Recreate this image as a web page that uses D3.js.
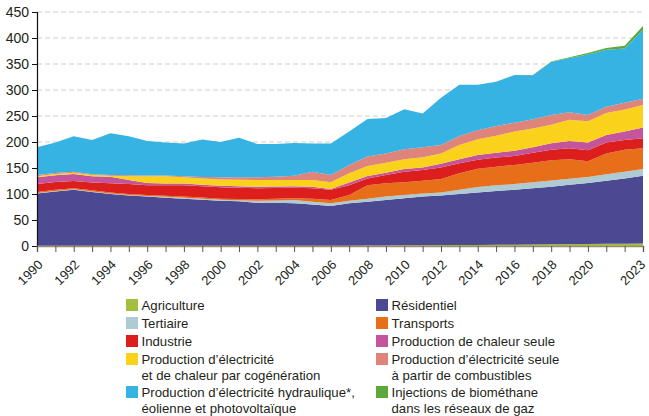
<!DOCTYPE html>
<html><head><meta charset="utf-8">
<script src="https://cdn.jsdelivr.net/npm/d3@7"></script>
<style>
body{margin:0;background:#fff;}
text{font-family:"Liberation Sans",Arial,Helvetica,sans-serif;fill:#231f20;}
</style></head>
<body><svg id="c" width="649" height="416"></svg>
<script>
const years = [1990,1991,1992,1993,1994,1995,1996,1997,1998,1999,2000,2001,2002,2003,2004,2005,2006,2007,2008,2009,2010,2011,2012,2013,2014,2015,2016,2017,2018,2019,2020,2021,2022,2023];
const xTickLabels = ["1990","1992","1994","1996","1998","2000","2002","2004","2006","2008","2010","2012","2014","2016","2018","2020","2023"];
const yTicks = [0,50,100,150,200,250,300,350,400,450];

const agriculture = [0.5,0.5,0.5,0.5,0.5,0.5,0.5,0.5,0.5,0.5,0.5,0.5,0.5,0.5,0.5,0.5,0.5,0.7,1,1.2,1.5,1.6,1.8,2,2.1,2.3,2.6,3,3.3,3.5,3.8,4.2,4.5,4.8];
const residentiel = [100.5,104.5,107.5,103.5,99.5,96.5,94.5,92.5,90.5,88.5,86.5,85.5,82.5,82.5,81.5,79.5,76.5,81.3,84,87.3,90.5,93.4,95.2,98,100.9,103.5,105.4,108,110.7,114.5,117.2,121.4,125.5,130.2];
const tertiaire = [1,1,1,1,1,1,1,1.5,2,2,2,2,4,4.5,6.5,5,5,5,6,6.5,6,6,6,8,10.5,10.9,11,11.5,12,11.5,11.5,12.4,13,13];
const transports = [2,2,2,2,2,2,2,2,2,2.5,2,2.5,3,3.5,3.5,6,6.5,11,26,25.5,24.5,24.6,26,32,35,35.9,37,37.5,39,37.5,30.5,40,42,40];
const industrie = [15,15,14,15,17.5,19,19,20.5,22,21.5,22,21.5,21,20.5,20,20,19.5,19,13,16,20.5,20.4,22,19,17.5,17.4,17,19.5,20,21,21,21,19,19];
const chaleurSeule = [13,13,13.5,12,12.5,8,4,3,3,3,3,3,3,3,3,3,1.5,5,4.6,4.5,5,5,7,8,9,9.5,10,10.5,12.5,14,15,14.5,16,21];
const cogeneration = [2,2.5,2.5,2.5,2,7,13,14,12,12,12,12.5,13,12.5,12,13,13,18,19.4,19,19,19.5,20,27,30.5,32.5,37,36,35.5,41,41,42.5,42.5,43];
const elecCombustibles = [2.5,2,2,1.5,1.5,2,1.5,1.5,2,2.5,4,4.5,5,6,8,16,14,16,18,18,19,19.5,16,17.5,17,19,17,17.6,19,14,12,12,13.1,12];
const hydroEolienPV = [53.5,58.5,68,66,80.5,75,66.5,63.5,63,72.5,68,76,64,63,63,54,60.5,64,72,68,77,65,91,98.5,87.5,84.8,91.7,84.8,102,104.5,116.5,109.5,104.4,133.5];
const biomethane = [0,0,0,0,0,0,0,0,0,0,0,0,0,0,0,0,0,0,0,0,0,0,0,0,0,0.2,0.3,0.6,1,1.5,2.5,3.5,5,6.5];

const seriesKeys = ["agriculture","residentiel","tertiaire","transports","industrie","chaleurSeule","cogeneration","elecCombustibles","hydroEolienPV","biomethane"];
const seriesValues = {agriculture,residentiel,tertiaire,transports,industrie,chaleurSeule,cogeneration,elecCombustibles,hydroEolienPV,biomethane};
const seriesColors = {agriculture:"#a2c03b",residentiel:"#4b4992",tertiaire:"#aecad3",transports:"#e86f19",industrie:"#dc1f1c",chaleurSeule:"#c4549b",cogeneration:"#fad21c",elecCombustibles:"#de847b",hydroEolienPV:"#36b2e3",biomethane:"#5da83a"};

const legendLeft = [
  {key:"agriculture", lines:["Agriculture"]},
  {key:"tertiaire", lines:["Tertiaire"]},
  {key:"industrie", lines:["Industrie"]},
  {key:"cogeneration", lines:["Production d’électricité","et de chaleur par cogénération"]},
  {key:"hydroEolienPV", lines:["Production d’électricité hydraulique*,","éolienne et photovoltaïque"]}
];
const legendRight = [
  {key:"residentiel", lines:["Résidentiel"]},
  {key:"transports", lines:["Transports"]},
  {key:"chaleurSeule", lines:["Production de chaleur seule"]},
  {key:"elecCombustibles", lines:["Production d’électricité seule","à partir de combustibles"]},
  {key:"biomethane", lines:["Injections de biométhane","dans les réseaux de gaz"]}
];

const svg = d3.select("#c");
const L = 37, R = 643, T = 12, B = 246;
const x = d3.scaleLinear().domain([1990,2023]).range([L,R]);
const y = d3.scaleLinear().domain([0,450]).range([B,T]);

const table = years.map((yr,i)=>{ const o={year:yr}; seriesKeys.forEach(k=>o[k]=seriesValues[k][i]); return o; });
const stack = d3.stack().keys(seriesKeys)(table);

// gridlines
svg.append("g").selectAll("line").data(yTicks.filter(d=>d>0)).join("line")
  .attr("x1",L).attr("x2",R).attr("y1",d=>y(d)).attr("y2",d=>y(d))
  .attr("stroke","#d0d0d0").attr("stroke-width",1.2).attr("stroke-dasharray","5,3");

const area = d3.area().x(d=>x(d.data.year)).y0(d=>y(d[0])).y1(d=>y(d[1]));
svg.append("g").selectAll("path").data(stack).join("path")
  .attr("d",area).attr("fill",d=>seriesColors[d.key]);

// y axis
const yAxis = svg.append("g").attr("transform",`translate(${L},0)`)
  .call(d3.axisLeft(y).tickValues(yTicks).tickSize(5).tickPadding(3));
yAxis.select(".domain").attr("stroke","#111").attr("stroke-width",1.2);
yAxis.selectAll(".tick line").attr("stroke","#111");
yAxis.selectAll("text").attr("font-size",14).attr("fill","#231f20").style("font-family","'Liberation Sans',Arial,sans-serif");

// x axis
const xAxis = svg.append("g").attr("transform",`translate(0,${B})`)
  .call(d3.axisBottom(x).tickValues(years).tickSize(6).tickFormat(d=>xTickLabels.includes(String(d))?String(d):""));
xAxis.select(".domain").attr("stroke","#9a8a70").attr("stroke-width",1.5);
xAxis.selectAll(".tick line").attr("stroke","#555");
xAxis.selectAll("text").attr("font-size",13).attr("fill","#231f20")
  .style("font-family","'Liberation Sans',Arial,sans-serif")
  .attr("text-anchor","end").attr("dy",null).attr("y",0)
  .attr("transform",d=>d===2023?"translate(2.5,19.5) rotate(-45)":"translate(6,19.5) rotate(-45)");

// legend
function drawLegend(items, sx){
  const ys=[305,323,341,359,392];
  items.forEach((it,i)=>{
    const g = svg.append("g");
    g.append("rect").attr("x",sx).attr("y",ys[i]-6).attr("width",12).attr("height",12).attr("fill",seriesColors[it.key]);
    it.lines.forEach((ln,j)=>{
      g.append("text").attr("x",sx+15.5).attr("y",ys[i]+j*16.5).attr("dy","0.36em")
        .attr("font-size",13.2).text(ln);
    });
  });
}
drawLegend(legendLeft,126);
drawLegend(legendRight,376);
</script></body></html>
